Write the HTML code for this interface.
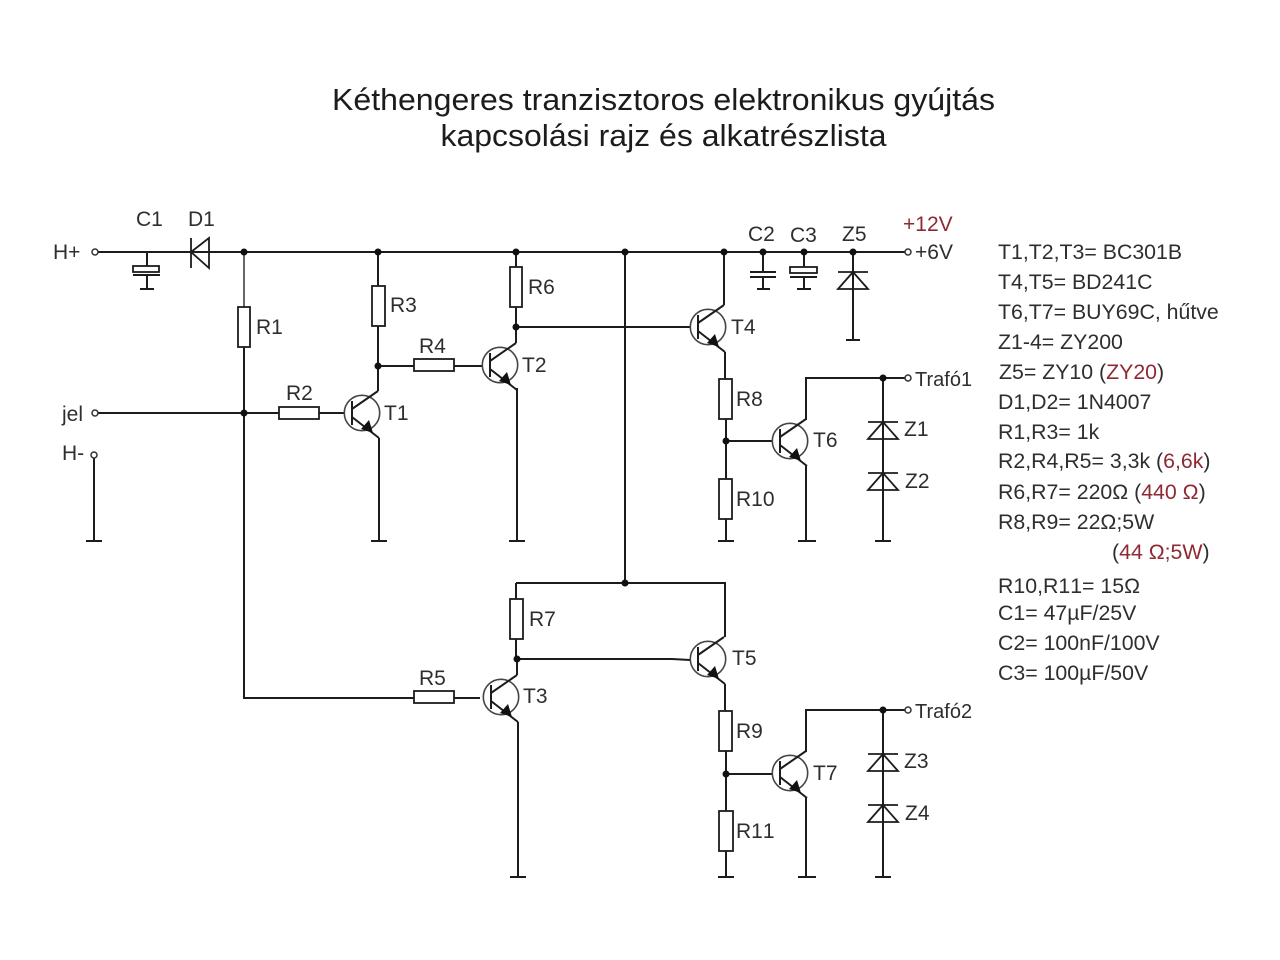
<!DOCTYPE html>
<html><head><meta charset="utf-8"><style>
html,body{margin:0;padding:0;background:#fff}
svg{display:block}
text{font-family:"Liberation Sans",sans-serif;font-size:21px;fill:#2e2e2e}
.l text{font-size:21.3px}
.r{fill:#8e2a33}
tspan.r{fill:#8e2a33}
.w{fill:none;stroke:#1c1c1c;stroke-width:2}
.b{fill:#fff;stroke:#1c1c1c;stroke-width:1.8}
</style></head><body>
<svg width="1280" height="960" viewBox="0 0 1280 960" xmlns="http://www.w3.org/2000/svg">
<defs>
<g id="t">
<circle r="17.7" fill="none" stroke="#444" stroke-width="1.6"/>
<path class="w" d="M-10-12V12M-10-4L16-22M-10 4L17 25"/>
<path d="M11 20L-1 16L7 7Z" fill="#111"/>
</g>
<g id="z"><path d="M-15 0H15M0 0L-15 17H15Z" fill="none" stroke="#1c1c1c" stroke-width="1.8"/></g>
</defs>
<text x="663.500" y="110" text-anchor="middle" style="font-size:31px;fill:#1c1c1c" textLength="663" lengthAdjust="spacingAndGlyphs">Kéthengeres tranzisztoros elektronikus gyújtás</text>
<text x="663.500" y="146" text-anchor="middle" style="font-size:31px;fill:#1c1c1c" textLength="446" lengthAdjust="spacingAndGlyphs">kapcsolási rajz és alkatrészlista</text>

<!-- wires -->
<path class="w" d="M98 252H905M98 413H344M94 458V541M86 541H102
M147 252V266M147 275V289M140 289H154
M244 252V698H480
M378 252V391M378 366H482M379 438V541M371 541H387
M516 252V343M516 327H690M517 388V541M509 541H525
M625 252V583M516 583H725V637M516 583V659M517 659V675M517 659H672L690 660
M518 722V877M510 877H526
M724 252V305M725 352V378M726 378V541M718 541H734
M726 441H772M806 420V378H905M806 466V541M798 541H816
M883 378V541M875 541H891
M725 684V710M726 710V877M718 877H734
M726 774H772M806 752V710H905M806 798V877M798 877H816
M883 710V877M875 877H891
M763 252V272M763 277V289M757 289H770
M804 252V267M804 277V289M797 289H811
M853 252V340M846 340H860
M750 272H776M750 277H776M790 277H817M133 275H160"/>
<path d="M244 252V307" stroke="#666" stroke-width="2"/>

<!-- diode -->
<path d="M191 238V268M191 252L209 238V268Z" fill="none" stroke="#1c1c1c" stroke-width="1.8"/>

<!-- caps -->
<rect class="b" x="133" y="266" width="26" height="6"/>
<rect class="b" x="790" y="267" width="27" height="6"/>

<!-- resistors -->
<rect class="b" x="238" y="307" width="12" height="40"/>
<rect class="b" x="279" y="407" width="40" height="12"/>
<rect class="b" x="372" y="286" width="13" height="40"/>
<rect class="b" x="414" y="359" width="40" height="12"/>
<rect class="b" x="510" y="267" width="12" height="40"/>
<rect class="b" x="510" y="599" width="13" height="40"/>
<rect class="b" x="414" y="691" width="40" height="12"/>
<rect class="b" x="719" y="379" width="13" height="40"/>
<rect class="b" x="719" y="479" width="13" height="40"/>
<rect class="b" x="719" y="711" width="13" height="40"/>
<rect class="b" x="719" y="811" width="14" height="40"/>

<!-- transistors -->
<use href="#t" x="362" y="413"/>
<use href="#t" x="500" y="365"/>
<use href="#t" x="501" y="697"/>
<use href="#t" x="708" y="327"/>
<use href="#t" x="708" y="659"/>
<use href="#t" x="790" y="441"/>
<use href="#t" x="790" y="773"/>

<!-- zeners -->
<use href="#z" x="853" y="272"/>
<use href="#z" x="883" y="422"/>
<use href="#z" x="883" y="473"/>
<use href="#z" x="883" y="754"/>
<use href="#z" x="883" y="805"/>

<!-- nodes -->
<g fill="#111">
<circle cx="244" cy="252" r="3.500"/><circle cx="378" cy="252" r="3.500"/><circle cx="516" cy="252" r="3.500"/>
<circle cx="625" cy="252" r="3.500"/><circle cx="724" cy="252" r="3.500"/><circle cx="763" cy="252" r="3.500"/>
<circle cx="804" cy="252" r="3.500"/><circle cx="853" cy="252" r="3.500"/>
<circle cx="244" cy="413" r="3.500"/><circle cx="378" cy="366" r="3.500"/><circle cx="516" cy="327" r="3.500"/>
<circle cx="625" cy="583" r="3.500"/><circle cx="517" cy="659" r="3.500"/>
<circle cx="726" cy="441" r="3.500"/><circle cx="726" cy="774" r="3.500"/>
<circle cx="883" cy="378" r="3.500"/><circle cx="883" cy="710" r="3.500"/>
</g>
<!-- terminals -->
<g fill="#fff" stroke="#333" stroke-width="1.500">
<circle cx="95" cy="252" r="3"/><circle cx="95" cy="413" r="3"/><circle cx="94" cy="455" r="3"/>
<circle cx="908" cy="252" r="3"/><circle cx="908" cy="378" r="3"/><circle cx="908" cy="710" r="3"/>
</g>

<!-- labels -->
<text x="53" y="259">H+</text><text x="62" y="421">jel</text><text x="62" y="460">H-</text>
<text x="136" y="226">C1</text><text x="188" y="226">D1</text>
<text x="256" y="334">R1</text><text x="286" y="400">R2</text><text x="390" y="312">R3</text>
<text x="419" y="353">R4</text><text x="528" y="294">R6</text><text x="529" y="626">R7</text>
<text x="419" y="685">R5</text><text x="736" y="406">R8</text><text x="736" y="506">R10</text>
<text x="736" y="738">R9</text><text x="736" y="838" style="font-kerning:none">R11</text>
<text x="384" y="420">T1</text><text x="522" y="372">T2</text><text x="523" y="703">T3</text>
<text x="731" y="334">T4</text><text x="732" y="665">T5</text><text x="813" y="447">T6</text><text x="813" y="780">T7</text>
<text x="748" y="241">C2</text><text x="790" y="242">C3</text><text x="842" y="241">Z5</text>
<text class="r" x="903" y="231">+12V</text><text x="915" y="259">+6V</text>
<text x="915" y="386" style="font-size:20px">Trafó1</text><text x="915" y="718" style="font-size:20px">Trafó2</text>
<text x="904" y="436">Z1</text><text x="905" y="488">Z2</text><text x="904" y="768">Z3</text><text x="905" y="820">Z4</text>

<g class="l" style="font-kerning:none">
<text x="998" y="259">T1,T2,T3= BC301B</text>
<text x="998" y="289">T4,T5= BD241C</text>
<text x="998" y="319">T6,T7= BUY69C, hűtve</text>
<text x="998" y="349">Z1-4= ZY200</text>
<text x="999" y="379">Z5= ZY10 (<tspan class="r">ZY20</tspan>)</text>
<text x="998" y="409">D1,D2= 1N4007</text>
<text x="998" y="439">R1,R3= 1k</text>
<text x="998" y="468">R2,R4,R5= 3,3k (<tspan class="r">6,6k</tspan>)</text>
<text x="998" y="499">R6,R7= 220Ω (<tspan class="r">440 Ω</tspan>)</text>
<text x="998" y="529">R8,R9= 22Ω;5W</text>
<text x="1112" y="559">(<tspan class="r">44 Ω;5W</tspan>)</text>
<text x="998" y="593">R10,R11= 15Ω</text>
<text x="998" y="620">C1= 47µF/25V</text>
<text x="998" y="650">C2= 100nF/100V</text>
<text x="998" y="680">C3= 100µF/50V</text>
</g>
</svg>
</body></html>
